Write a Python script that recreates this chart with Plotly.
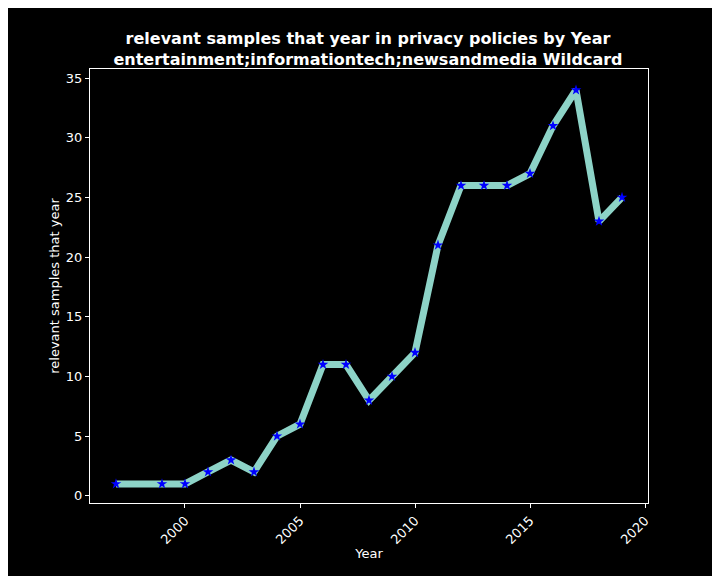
import plotly.graph_objects as go

# values
years = [1997, 1999, 2000, 2001, 2002, 2003, 2004, 2005, 2006, 2007, 2008,
         2009, 2010, 2011, 2012, 2013, 2014, 2015, 2016, 2017, 2018, 2019]
samples = [1, 1, 1, 2, 3, 2, 5, 6, 11, 11, 8,
           10, 12, 21, 26, 26, 26, 27, 31, 34, 23, 25]
x_ticks = [2000, 2005, 2010, 2015, 2020]
y_ticks = [0, 5, 10, 15, 20, 25, 30, 35]
title_lines = ["relevant samples that year in privacy policies by Year",
               "entertainment;informationtech;newsandmedia Wildcard"]

fig = go.Figure()
fig.add_trace(go.Scatter(
    x=years, y=samples, mode="lines",
    line=dict(color="#8dd3c7", width=7),
    showlegend=False, hoverinfo="skip"))
fig.add_trace(go.Scatter(
    x=years, y=samples, mode="markers",
    marker=dict(symbol="star", color="blue", size=8, line=dict(width=0)),
    showlegend=False))

fig.update_layout(
    width=720, height=576,
    paper_bgcolor="black", plot_bgcolor="black",
    font=dict(family="DejaVu Sans", color="white", size=13),
    margin=dict(l=82, r=80, t=61, b=81),
    title=dict(
        text="<b>" + "<br>".join(title_lines) + "</b>",
        x=0.5, xanchor="center", yref="container", y=0.937, yanchor="middle",
        font=dict(size=16, color="white")),
)
fig.update_xaxes(
    title=dict(text="Year", font=dict(size=13), standoff=2),
    range=[1995.87, 2020.13], tickvals=x_ticks, tickangle=-45,
    ticks="outside", ticklen=4, tickcolor="white", tickfont=dict(size=13),
    showgrid=False, zeroline=False,
    showline=True, linecolor="white", linewidth=1, mirror=True)
fig.update_yaxes(
    title=dict(text="relevant samples that year", font=dict(size=13), standoff=3),
    range=[-0.6, 35.76], tickvals=y_ticks,
    ticks="outside", ticklen=4, tickcolor="white", tickfont=dict(size=13),
    showgrid=False, zeroline=False,
    showline=True, linecolor="white", linewidth=1, mirror=True)

fig.write_html("out.html")
